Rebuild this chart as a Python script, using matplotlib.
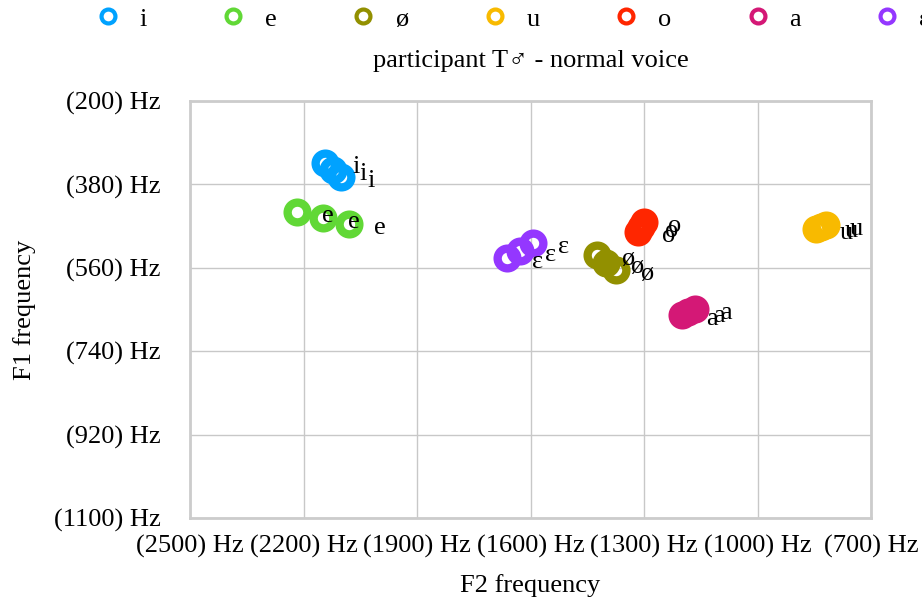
import matplotlib
matplotlib.use("Agg")
import matplotlib.pyplot as plt
from matplotlib.lines import Line2D
from matplotlib.ticker import FuncFormatter

plt.rcParams["font.family"] = ["Liberation Serif", "DejaVu Sans"]

# ---------------- data (Hz) ----------------
vowels = ["i", "e", "ø", "u", "o", "a", "ɛ"]
colors = ["#00a2ff", "#61d836", "#929000", "#f8ba00", "#ff2600", "#d41876", "#9437ff"]

f2_i = [2143, 2122, 2101]
f1_i = [334, 349, 364]
f2_e = [2217, 2148, 2080]
f1_e = [440, 453, 465]
f2_oe = [1424, 1400, 1374]
f1_oe = [532, 550, 565]
f2_u = [845, 832, 819]
f1_u = [476, 472, 468]
f2_o = [1300, 1308, 1316]
f1_o = [461, 472, 483]
f2_a = [1200, 1184, 1165]
f1_a = [662, 655, 649]
f2_eh = [1662, 1628, 1593]
f1_eh = [539, 524, 506]

f2_all = [f2_i, f2_e, f2_oe, f2_u, f2_o, f2_a, f2_eh]
f1_all = [f1_i, f1_e, f1_oe, f1_u, f1_o, f1_a, f1_eh]

x_ticks = [-2500, -2200, -1900, -1600, -1300, -1000, -700]
y_ticks = [-1100, -920, -740, -560, -380, -200]

title = "participant T\u2642 - normal voice"
fs = 19

# ---------------- figure ----------------
fig = plt.figure(figsize=(9.22, 6.04), dpi=100)
ax = fig.add_axes([190 / 922, 1 - 518 / 604, 681 / 922, 417 / 604])

# plotted as negative values so the axes run like a vowel chart
for v, c, f2, f1 in zip(vowels, colors, f2_all, f1_all):
    ax.plot([-x for x in f2], [-y for y in f1], linestyle="none", marker="o",
            markersize=14.2, markeredgewidth=6.0, markeredgecolor=c,
            markerfacecolor="none", zorder=3)

for v, f2, f1 in zip(vowels, f2_all, f1_all):
    for x, y in zip(f2, f1):
        ax.annotate(v, (-x, -y), xytext=(22, -3), textcoords="offset points",
                    ha="center", va="center", fontsize=fs, zorder=5)

ax.set_xlim(-2500, -700)
ax.set_ylim(-1100, -200)
ax.set_xticks(x_ticks)
ax.set_yticks(y_ticks)
fmt = FuncFormatter(lambda v, p: f"({abs(v):.0f}) Hz")
ax.xaxis.set_major_formatter(fmt)
ax.yaxis.set_major_formatter(fmt)
ax.tick_params(axis="both", length=0, labelsize=fs)
ax.tick_params(axis="x", pad=12)
ax.tick_params(axis="y", pad=21)
ax.grid(True, color="#c8c8c8", linewidth=1)
ax.set_axisbelow(True)
for s in ax.spines.values():
    s.set_color("#cccccc")
    s.set_linewidth(2)

fig.text(530.5 / 922, 1 - 61 / 604, title, ha="center", va="center", fontsize=fs)
fig.text(530.5 / 922, 1 - 586 / 604, "F2 frequency", ha="center", va="center", fontsize=fs)
fig.text(25 / 922, 1 - 310 / 604, "F1 frequency", ha="center", va="center",
         rotation=90, fontsize=fs)

handles = [Line2D([], [], linestyle="none", marker="o", markersize=10,
                  markeredgewidth=3.0, markeredgecolor=c, markerfacecolor="none")
           for c in colors]
fig.legend(handles, vowels, ncol=7, loc="center left",
           bbox_to_anchor=(97 / 922, 1 - 19 / 604), frameon=False, fontsize=fs,
           handlelength=0.8, handletextpad=0.8, columnspacing=2.88,
           borderpad=0, borderaxespad=0)

fig.savefig("out.png", dpi=100)
